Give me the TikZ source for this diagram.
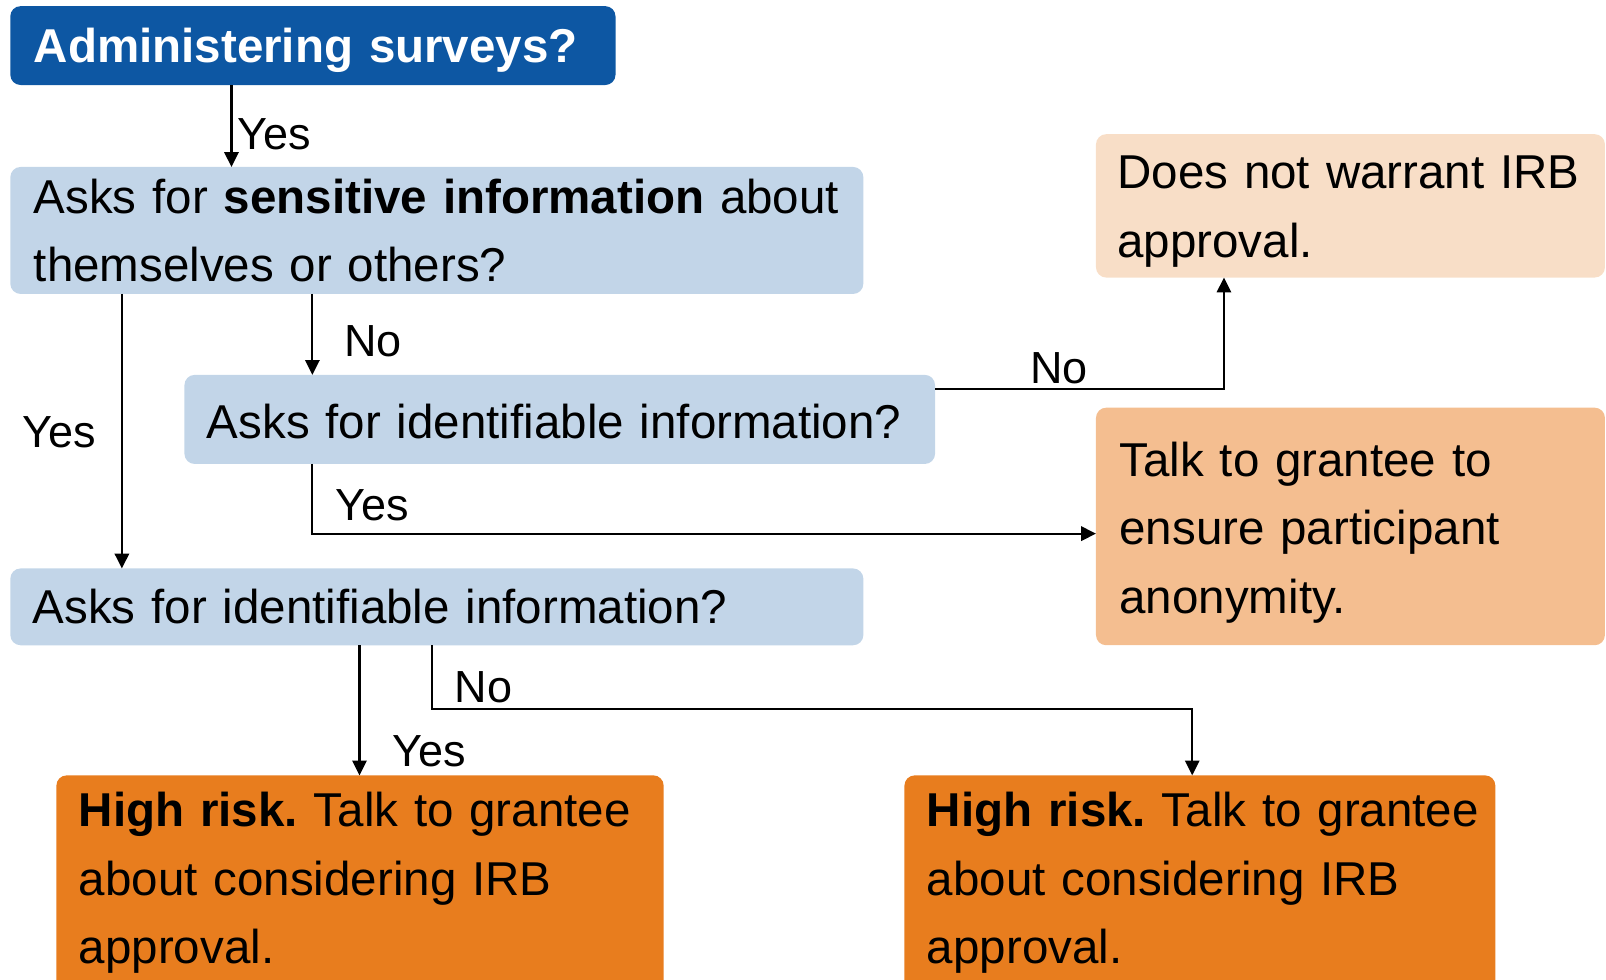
\documentclass[tikz,border=0pt]{standalone}
\usepackage{fontspec}
\setmainfont{Liberation Sans}
\usetikzlibrary{arrows.meta}
\definecolor{darkblue}{HTML}{0D57A3}
\definecolor{lightblue}{HTML}{C2D5E8}
\definecolor{lightpeach}{HTML}{F8DEC7}
\definecolor{midpeach}{HTML}{F4BE90}
\definecolor{orangebox}{HTML}{E87D1E}
\tikzset{
  box/.style={rectangle, rounded corners=0.2cm, inner sep=0pt, outer sep=0pt, draw=none},
  txt/.style={anchor=base west, inner sep=0pt, outer sep=0pt, text width=#1, align=left,
    font=\fontsize{26.4pt}{38.1pt}\selectfont},
  lbl/.style={anchor=base west, inner sep=0pt, outer sep=0pt, font=\fontsize{25pt}{30pt}\selectfont},
  arr/.style={draw=black, line width=1.2pt, -{Triangle[length=0.29cm,width=0.28cm]}}
}
\begin{document}
\frenchspacing
\begin{tikzpicture}[x=0.02cm,y=-0.02cm]
\useasboundingbox (0,0) rectangle (1568,956);
\clip (0,0) rectangle (1568,956);
% boxes
\node[box, fill=darkblue, minimum width=11.82cm, minimum height=1.54cm] (A) at (305.5,44.5) {};
\node[box, fill=lightblue, minimum width=16.66cm, minimum height=2.48cm] (B) at (426.5,225) {};
\node[box, fill=lightblue, minimum width=14.66cm, minimum height=1.74cm] (C) at (546.5,409.5) {};
\node[box, fill=lightblue, minimum width=16.66cm, minimum height=1.5cm] (D) at (426.5,592.5) {};
\node[box, fill=lightpeach, minimum width=9.94cm, minimum height=2.8cm] (E) at (1318.5,201) {};
\node[box, fill=midpeach, minimum width=9.94cm, minimum height=4.64cm] (F) at (1318.5,514) {};
\node[box, fill=orangebox, minimum width=11.86cm, minimum height=4.46cm] (G) at (351.5,868.5) {};
\node[box, fill=orangebox, minimum width=11.54cm, minimum height=4.46cm] (H) at (1171.5,868.5) {};
% texts
\node[txt=11cm, text=white] (tA) at (33,61) {\textbf{Administering surveys?}};
\node[txt=16.4cm] (tB) at (33,208) {Asks for \textbf{sensitive information} about\\themselves or others?};
\node[txt=14.4cm] (tC) at (202,428) {Asks for identifiable information?};
\node[txt=16.4cm] (tD) at (32,609) {Asks for identifiable information?};
\node[txt=9.5cm] (tE) at (1091,184) {Does not warrant IRB\\approval.};
\node[txt=9.5cm] (tF) at (1093,465) {Talk to grantee to\\ensure participant\\anonymity.};
\node[txt=11.4cm] (tG) at (77,807) {\textbf{High risk.} Talk to grantee\\about considering IRB\\approval.};
\node[txt=11.2cm] (tH) at (905,807) {\textbf{High risk.} Talk to grantee\\about considering IRB\\approval.};
% connector guide coordinates
\coordinate (c1) at (226,0);
\coordinate (c2) at (119,0);
\coordinate (c3) at (305,0);
\coordinate (k4) at (1195,380);
\coordinate (k5) at (305,521);
\coordinate (c6) at (351,0);
\coordinate (k7a) at (422,692);
\coordinate (k7b) at (1164,692);
% connectors
\draw[arr] (A.south -| c1) -- (B.north -| c1);
\draw[arr] (B.south -| c2) -- (D.north -| c2);
\draw[arr] (B.south -| c3) -- (C.north -| c3);
\draw[arr] (C.east |- k4) -- (k4) -- (E.south -| k4);
\draw[arr] (C.south -| k5) -- (k5) -- (F.west |- k5);
\draw[arr] (D.south -| c6) -- (G.north -| c6);
\draw[arr] (D.south -| k7a) -- (k7a) -- (k7b) -- (H.north -| k7b);
% labels
\node[lbl] (l1) at (232,146) {Yes};
\node[lbl] (l2) at (22,437) {Yes};
\node[lbl] (l3) at (336,348) {No};
\node[lbl] (l4) at (1006,374) {No};
\node[lbl] (l5) at (328,508) {Yes};
\node[lbl] (l6) at (444,686) {No};
\node[lbl] (l7) at (383,748) {Yes};
\end{tikzpicture}
\end{document}
